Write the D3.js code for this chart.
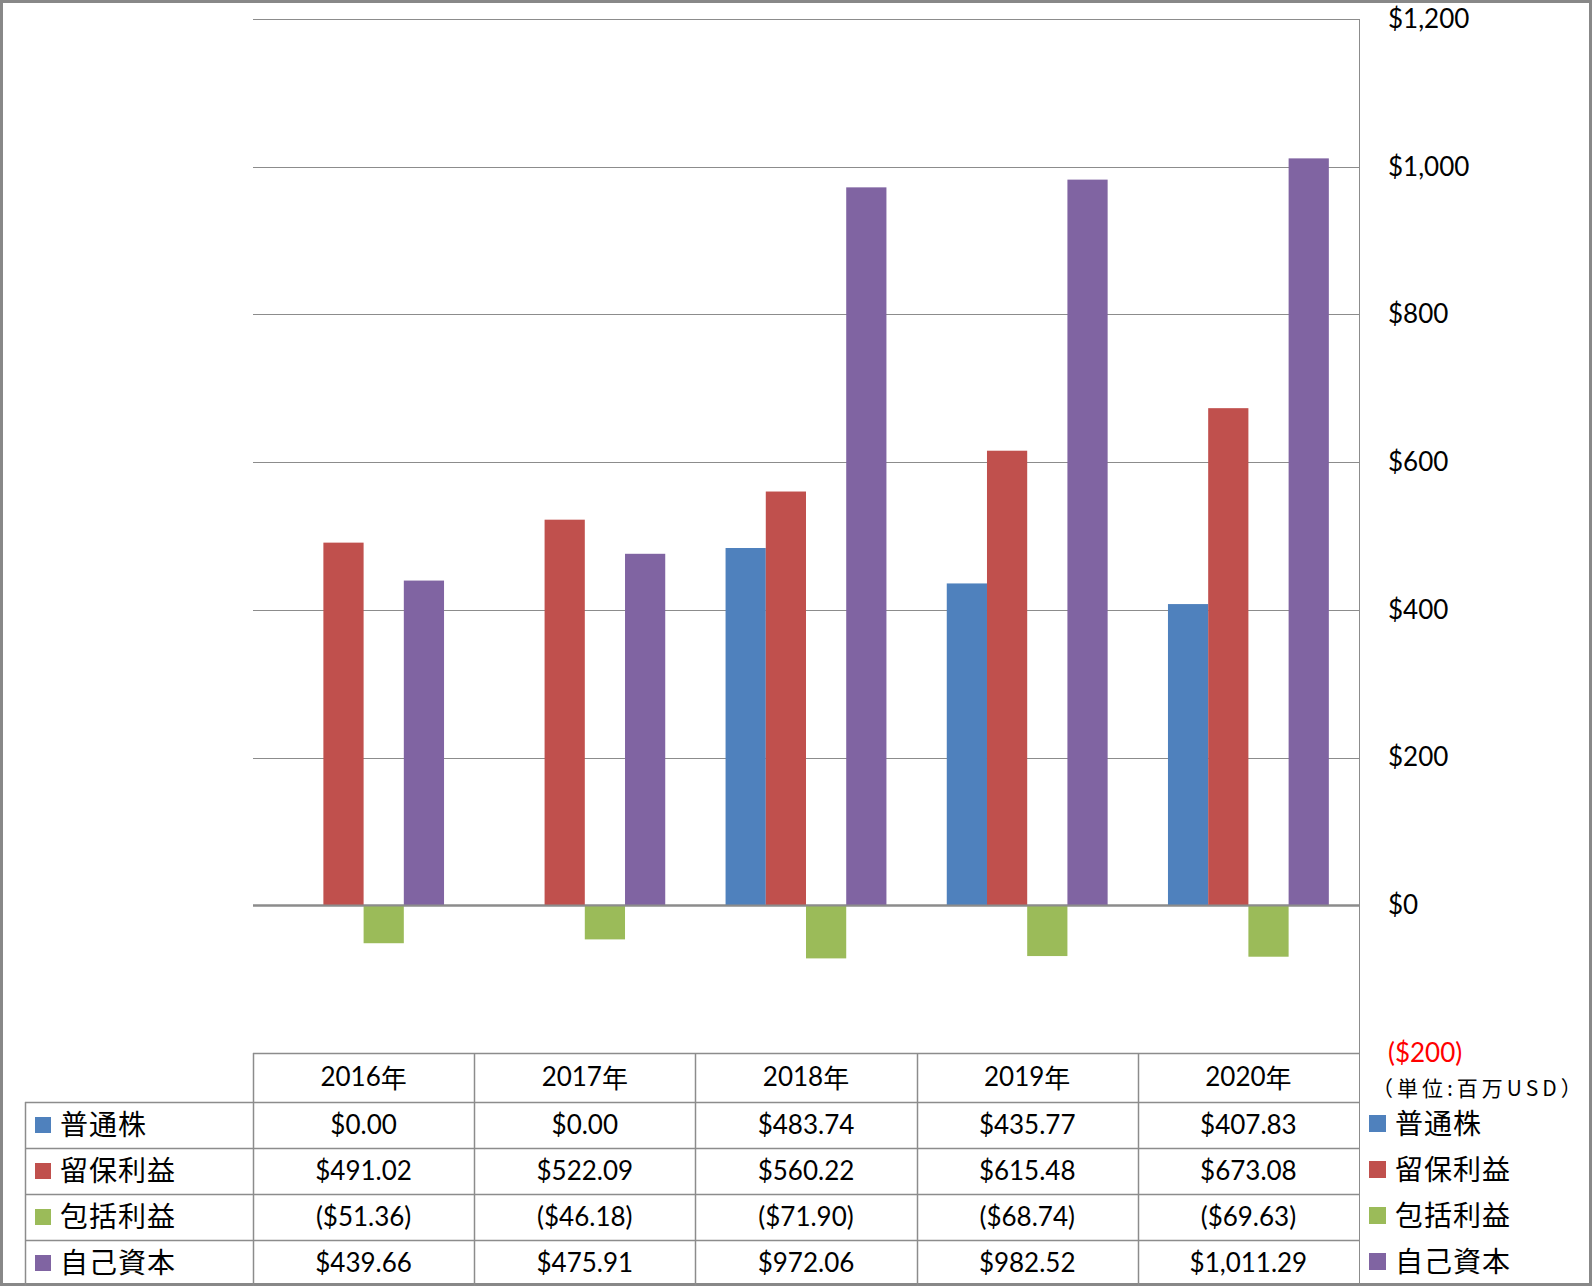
<!DOCTYPE html>
<html><head><meta charset="utf-8">
<script src="https://cdn.jsdelivr.net/npm/d3@7"></script>
<style>
html,body{margin:0;padding:0;background:#fff;}
svg{display:block;}
</style></head>
<body>
<svg id="chart" width="1592" height="1286"></svg>
<script>
const years = ["2016年","2017年","2018年","2019年","2020年"];
const seriesNames = ["普通株","留保利益","包括利益","自己資本"];
const seriesColors = ["#4F81BD","#C0504D","#9BBB59","#8064A2"];
const commonStock = [0.00, 0.00, 483.74, 435.77, 407.83];
const retainedEarnings = [491.02, 522.09, 560.22, 615.48, 673.08];
const comprehensiveIncome = [-51.36, -46.18, -71.90, -68.74, -69.63];
const equity = [439.66, 475.91, 972.06, 982.52, 1011.29];
const tickValues = [-200, 0, 200, 400, 600, 800, 1000, 1200];
const unitLabel = "（単位:百万USD）";

const seriesValues = [commonStock, retainedEarnings, comprehensiveIncome, equity];

const svg = d3.select("#chart");
const W = 1592, H = 1286;
const plotL = 253, plotR = 1359, plotT = 19, plotB = 1053;
const gridColor = "#8c8c8c";
const numFont = "Lato, 'Liberation Sans', sans-serif";
const jpFont = "'Noto Sans CJK JP', sans-serif";

const y = d3.scaleLinear().domain([-200, 1200]).range([plotB, plotT]);
const x = d3.scaleBand().domain(years).range([plotL, plotR]).padding(0);
const bw = x.bandwidth();
const unit = bw / 5.5;
const xs = d3.scaleBand().domain(seriesNames).range([unit * 0.75, unit * 4.75]).padding(0);

// outer border
svg.append("rect").attr("x", 1.5).attr("y", 1.5).attr("width", W - 3).attr("height", H - 3)
  .attr("fill", "#fff").attr("stroke", "#888").attr("stroke-width", 3);

// gridlines
svg.append("g").selectAll("line").data(tickValues.filter(v => v > -200)).join("line")
  .attr("x1", plotL).attr("x2", plotR)
  .attr("y1", d => Math.round(y(d)) + 0.5).attr("y2", d => Math.round(y(d)) + 0.5)
  .attr("stroke", gridColor).attr("stroke-width", d => d === 0 ? 2 : 1);

// bars
const rows = years.map((yr, i) => ({ year: yr, vals: seriesNames.map((s, j) => ({ s, j, v: seriesValues[j][i] })) }));
const g = svg.append("g").selectAll("g").data(rows).join("g")
  .attr("transform", d => `translate(${x(d.year)},0)`);
g.selectAll("rect").data(d => d.vals.filter(e => e.v !== 0)).join("rect")
  .attr("x", d => xs(d.s)).attr("width", xs.bandwidth())
  .attr("y", d => y(Math.max(0, d.v)))
  .attr("height", d => Math.abs(y(d.v) - y(0)))
  .attr("fill", d => seriesColors[d.j]);

// zero line on top
svg.append("line").attr("x1", plotL).attr("x2", plotR)
  .attr("y1", Math.round(y(0)) + 0.5).attr("y2", Math.round(y(0)) + 0.5)
  .attr("stroke", gridColor).attr("stroke-width", 2);

// right axis
const axis = d3.axisRight(y).tickValues(tickValues).tickSize(0).tickPadding(29)
  .tickFormat(v => v < 0 ? `($${d3.format(",")(-v)})` : `$${d3.format(",")(v)}`);
const ax = svg.append("g").attr("transform", `translate(${plotR},0)`).call(axis);
ax.select(".domain").remove();
ax.append("line").attr("x1", 0.5).attr("x2", 0.5).attr("y1", plotT).attr("y2", H).attr("stroke", gridColor);
ax.selectAll(".tick text").attr("font-family", numFont).attr("font-size", 26)
  .attr("fill", d => d < 0 ? "#ff0000" : "#000").attr("dy", "0.32em");
svg.append("text").attr("x", 1372).attr("y", 1087).attr("dominant-baseline", "central")
  .attr("font-family", jpFont).attr("font-size", 21).attr("letter-spacing", 4).attr("fill", "#000").text(unitLabel);

// data table
const headerTop = plotB, headerBot = 1102, rowH = 46;
const tableL = 25;
const rowTops = seriesNames.map((s, i) => headerBot + i * rowH);
const tg = svg.append("g");
// horizontal lines
tg.append("line").attr("x1", plotL).attr("x2", plotR).attr("y1", headerTop + 0.5).attr("y2", headerTop + 0.5).attr("stroke", gridColor).attr("stroke-width", 1.5);
tg.selectAll("line.h").data(rowTops).join("line").attr("class", "h")
  .attr("x1", tableL).attr("x2", plotR).attr("y1", d => d + 0.5).attr("y2", d => d + 0.5)
  .attr("stroke", gridColor).attr("stroke-width", 1.5);
// vertical lines
const colEdges = years.map(yr => x(yr));
tg.selectAll("line.v").data(colEdges).join("line").attr("class", "v")
  .attr("x1", d => Math.round(d) + 0.5).attr("x2", d => Math.round(d) + 0.5)
  .attr("y1", headerTop).attr("y2", H).attr("stroke", gridColor).attr("stroke-width", 1.5);
tg.append("line").attr("x1", tableL + 0.5).attr("x2", tableL + 0.5).attr("y1", headerBot).attr("y2", H)
  .attr("stroke", gridColor).attr("stroke-width", 1.5);
// header
tg.selectAll("text.hd").data(years).join("text").attr("class", "hd")
  .attr("x", d => x(d) + bw / 2).attr("y", (headerTop + headerBot) / 2 - 2)
  .attr("text-anchor", "middle").attr("dominant-baseline", "central")
  .attr("font-family", numFont).attr("font-size", 26).attr("fill", "#000")
  .each(function(d){
    const t = d3.select(this);
    t.append("tspan").attr("font-family", numFont).text(d.replace("年", ""));
    t.append("tspan").attr("font-family", jpFont).text("年");
  });
const fmt = v => { const s = "$" + d3.format(",.2f")(Math.abs(v)); return v < 0 ? `(${s})` : s; };
seriesNames.forEach((s, j) => {
  const cy = rowTops[j] + rowH / 2 - 1;
  tg.selectAll(`text.c${j}`).data(seriesValues[j]).join("text").attr("class", `c${j}`)
    .attr("x", (d, i) => x(years[i]) + bw / 2).attr("y", cy)
    .attr("text-anchor", "middle").attr("dominant-baseline", "central")
    .attr("font-family", numFont).attr("font-size", 26).attr("fill", "#000").text(d => fmt(d));
  // left legend
  tg.append("rect").attr("x", 35).attr("y", cy - 7).attr("width", 16).attr("height", 16).attr("fill", seriesColors[j]);
  tg.append("text").attr("x", 60).attr("y", cy - 1).attr("dominant-baseline", "central")
    .attr("font-family", jpFont).attr("font-size", 28).attr("letter-spacing", 1).attr("fill", "#000").text(s);
  // right legend
  const ry = cy - 2;
  svg.append("rect").attr("x", 1369).attr("y", ry - 7).attr("width", 17).attr("height", 17).attr("fill", seriesColors[j]);
  svg.append("text").attr("x", 1395).attr("y", ry).attr("dominant-baseline", "central")
    .attr("font-family", jpFont).attr("font-size", 28).attr("letter-spacing", 1).attr("fill", "#000").text(s);
});
</script>
</body></html>
